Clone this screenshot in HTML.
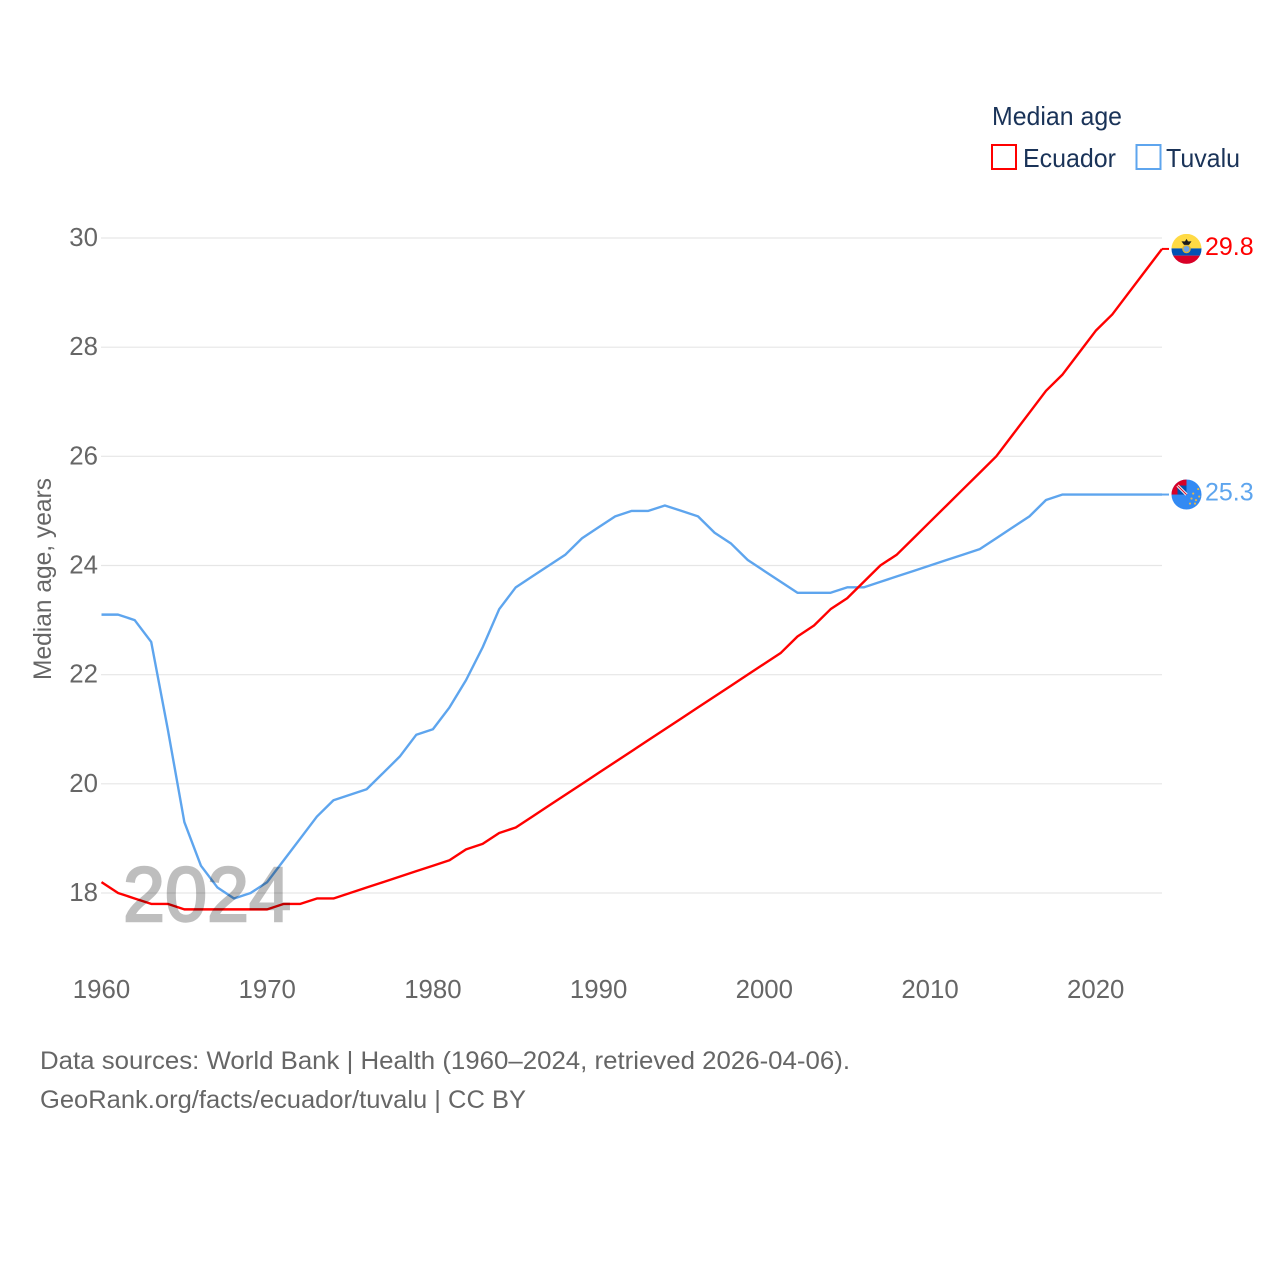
<!DOCTYPE html>
<html lang="en">
<head>
<meta charset="utf-8">
<title>Median age: Ecuador and Tuvalu</title>
<style>
html,body{margin:0;padding:0;background:#fff;}
svg{display:block;}
text{font-family:"Liberation Sans",sans-serif;}
</style>
</head>
<body>
<svg id="chart" xmlns="http://www.w3.org/2000/svg" width="1280" height="1280" viewBox="0 0 1280 1280">
  <defs>
    <clipPath id="ec-clip"><circle cx="0" cy="0" r="15"/></clipPath>
    <clipPath id="tv-clip"><circle cx="0" cy="0" r="15"/></clipPath>
  </defs>
  <rect x="0" y="0" width="1280" height="1280" fill="#fff"/>
  <g id="grid"></g>
  <g id="yticks"></g>
  <g id="xticks"></g>
  <text transform="translate(51,579) rotate(-90)" text-anchor="middle" font-size="25" fill="#666" textLength="202" lengthAdjust="spacingAndGlyphs">Median age, years</text>
  <g id="series"></g>
  <text x="123" y="921" font-size="77" font-weight="400" fill="#000" stroke="#000" stroke-width="2.4" opacity="0.25" textLength="168" lengthAdjust="spacingAndGlyphs">2024</text>
  <g id="ends"></g>

  <g>
    <text x="992" y="125" font-size="26" fill="#1a3358" textLength="130" lengthAdjust="spacingAndGlyphs">Median age</text>
    <g>
      <rect x="992" y="145" width="24" height="24" fill="#fff" stroke="#ff0000" stroke-width="2"/>
      <text x="1023" y="167" font-size="26" fill="#1a3358" textLength="93" lengthAdjust="spacingAndGlyphs">Ecuador</text>
    </g>
    <g>
      <rect x="1136.5" y="145" width="24" height="24" fill="#fff" stroke="#5ea5ee" stroke-width="2"/>
      <text x="1166" y="167" font-size="26" fill="#1a3358" textLength="74" lengthAdjust="spacingAndGlyphs">Tuvalu</text>
    </g>
  </g>

  <text x="40" y="1069" font-size="25" fill="#666" textLength="810" lengthAdjust="spacingAndGlyphs">Data sources: World Bank | Health (1960–2024, retrieved 2026-04-06).</text>
  <text x="40" y="1108" font-size="25" fill="#666" textLength="486" lengthAdjust="spacingAndGlyphs">GeoRank.org/facts/ecuador/tuvalu | CC BY</text>
</svg>
<script>
const years = [1960,1961,1962,1963,1964,1965,1966,1967,1968,1969,1970,1971,1972,1973,1974,1975,1976,1977,1978,1979,1980,1981,1982,1983,1984,1985,1986,1987,1988,1989,1990,1991,1992,1993,1994,1995,1996,1997,1998,1999,2000,2001,2002,2003,2004,2005,2006,2007,2008,2009,2010,2011,2012,2013,2014,2015,2016,2017,2018,2019,2020,2021,2022,2023,2024];
const ecuadorValues = [18.2,18.0,17.9,17.8,17.8,17.7,17.7,17.7,17.7,17.7,17.7,17.8,17.8,17.9,17.9,18.0,18.1,18.2,18.3,18.4,18.5,18.6,18.8,18.9,19.1,19.2,19.4,19.6,19.8,20.0,20.2,20.4,20.6,20.8,21.0,21.2,21.4,21.6,21.8,22.0,22.2,22.4,22.7,22.9,23.2,23.4,23.7,24.0,24.2,24.5,24.8,25.1,25.4,25.7,26.0,26.4,26.8,27.2,27.5,27.9,28.3,28.6,29.0,29.4,29.8];
const tuvaluValues = [23.1,23.1,23.0,22.6,21.0,19.3,18.5,18.1,17.9,18.0,18.2,18.6,19.0,19.4,19.7,19.8,19.9,20.2,20.5,20.9,21.0,21.4,21.9,22.5,23.2,23.6,23.8,24.0,24.2,24.5,24.7,24.9,25.0,25.0,25.1,25.0,24.9,24.6,24.4,24.1,23.9,23.7,23.5,23.5,23.5,23.6,23.6,23.7,23.8,23.9,24.0,24.1,24.2,24.3,24.5,24.7,24.9,25.2,25.3,25.3,25.3,25.3,25.3,25.3,25.3];
const yTickValues = [18,20,22,24,26,28,30];
const xTickValues = [1960,1970,1980,1990,2000,2010,2020];

const NS = 'http://www.w3.org/2000/svg';
const xScale = function (year) { return 101.5 + (year - 1960) * (1162 - 101.5) / 64; };
const yScale = function (value) { return 893 - (value - 18) * (893 - 238) / 12; };

function make(tag, parent) {
  const el = document.createElementNS(NS, tag);
  parent.appendChild(el);
  return el;
}

const gridGroup = document.getElementById('grid');
const yTickGroup = document.getElementById('yticks');
yTickValues.forEach(function (v) {
  const line = make('line', gridGroup);
  
  
  line.setAttribute('x1', 101);
  line.setAttribute('x2', 1162);
  line.setAttribute('y1', yScale(v));
  line.setAttribute('y2', yScale(v));
  line.setAttribute('stroke', '#e6e6e6');
  line.setAttribute('stroke-width', '1.2');

  const label = make('text', yTickGroup);
  
  
  label.setAttribute('x', 98);
  label.setAttribute('y', yScale(v) + 8);
  label.setAttribute('text-anchor', 'end');
  label.setAttribute('font-size', '25.8');
  label.setAttribute('fill', '#666');
  label.textContent = String(v);
});

const xTickGroup = document.getElementById('xticks');
xTickValues.forEach(function (v) {
  const label = make('text', xTickGroup);
  
  
  label.setAttribute('x', xScale(v));
  label.setAttribute('y', 998);
  label.setAttribute('text-anchor', 'middle');
  label.setAttribute('font-size', '25.8');
  label.setAttribute('fill', '#666');
  label.textContent = String(v);
});

function linePath(values) {
  return values.map(function (v, i) {
    return (i ? 'L' : 'M') + xScale(years[i]).toFixed(2) + ' ' + yScale(v).toFixed(2);
  }).join(' ');
}

const seriesGroup = document.getElementById('series');
const tuvaluLine = make('path', seriesGroup);


tuvaluLine.setAttribute('d', linePath(tuvaluValues));
tuvaluLine.setAttribute('fill', 'none');
tuvaluLine.setAttribute('stroke', '#5ea5ee');
tuvaluLine.setAttribute('stroke-width', '2.4');
tuvaluLine.setAttribute('stroke-linejoin', 'round');

const ecuadorLine = make('path', seriesGroup);


ecuadorLine.setAttribute('d', linePath(ecuadorValues));
ecuadorLine.setAttribute('fill', 'none');
ecuadorLine.setAttribute('stroke', '#ff0000');
ecuadorLine.setAttribute('stroke-width', '2.4');
ecuadorLine.setAttribute('stroke-linejoin', 'round');

const endsGroup = document.getElementById('ends');

function endMarker(slug, values, color) {
  const last = values[values.length - 1];
  const y = yScale(last);
  const stub = make('line', endsGroup);
  
  
  stub.setAttribute('x1', xScale(2024));
  stub.setAttribute('x2', 1169);
  stub.setAttribute('y1', y);
  stub.setAttribute('y2', y);
  stub.setAttribute('stroke', color);
  stub.setAttribute('stroke-width', '2');

  const label = make('text', endsGroup);
  
  
  label.setAttribute('x', 1205);
  label.setAttribute('y', y + 6);
  label.setAttribute('font-size', '25');
  label.setAttribute('fill', color);
  label.textContent = last.toFixed(1);

  const flag = make('g', endsGroup);
  flag.setAttribute('transform', 'translate(1186.5,' + y + ')');
  return flag;
}

function flagRect(parent, x, y, w, h, fill) {
  const r = make('rect', parent);
  r.setAttribute('x', x);
  r.setAttribute('y', y);
  r.setAttribute('width', w);
  r.setAttribute('height', h);
  r.setAttribute('fill', fill);
  return r;
}

/* Ecuador flag */
const ecFlag = endMarker('ecuador', ecuadorValues, '#ff0000');


ecFlag.setAttribute('clip-path', 'url(#ec-clip)');
flagRect(ecFlag, -15, -15, 30, 14.5, '#ffda44');
flagRect(ecFlag, -15, -0.5, 30, 7.2, '#0052b4');
flagRect(ecFlag, -15, 6.7, 30, 8.3, '#d80027');
const ecRing = make('circle', ecFlag);
ecRing.setAttribute('cx', 0);
ecRing.setAttribute('cy', 0);
ecRing.setAttribute('r', 3.6);
ecRing.setAttribute('fill', '#6da5e8');
ecRing.setAttribute('stroke', '#d8b23a');
ecRing.setAttribute('stroke-width', '1.4');
const ecBird = make('path', ecFlag);
ecBird.setAttribute('d', 'M-5 -7.5 L-1.5 -7.5 L0 -10 L1.5 -7.5 L5 -7.5 L2.5 -4 L-2.5 -4 Z');
ecBird.setAttribute('fill', '#1a1a1a');

/* Tuvalu flag */
const tvFlag = endMarker('tuvalu', tuvaluValues, '#5ea5ee');


tvFlag.setAttribute('clip-path', 'url(#tv-clip)');
flagRect(tvFlag, -15, -15, 30, 30, '#338af3');
flagRect(tvFlag, -15, -15, 15, 15, '#d80027');
flagRect(tvFlag, -9, -9, 9, 9, '#0052b4');
const tvWhite = make('path', tvFlag);
tvWhite.setAttribute('d', 'M-9 -9 L0 0');
tvWhite.setAttribute('stroke', '#f0f0f0');
tvWhite.setAttribute('stroke-width', '3');
const tvCross = make('path', tvFlag);
tvCross.setAttribute('d', 'M-9 -9 L0 0');
tvCross.setAttribute('stroke', '#d80027');
tvCross.setAttribute('stroke-width', '1');
const tvStarPoints = [[11.7,-5.5],[6.7,-1],[12.7,2],[5,4],[9.5,5.6],[3.5,9],[8.5,9]];
tvStarPoints.forEach(function (p) {
  const star = make('circle', tvFlag);
  star.setAttribute('cx', p[0]);
  star.setAttribute('cy', p[1]);
  star.setAttribute('r', 1.1);
  star.setAttribute('fill', '#e6b84a');
});
</script>
</body>
</html>
